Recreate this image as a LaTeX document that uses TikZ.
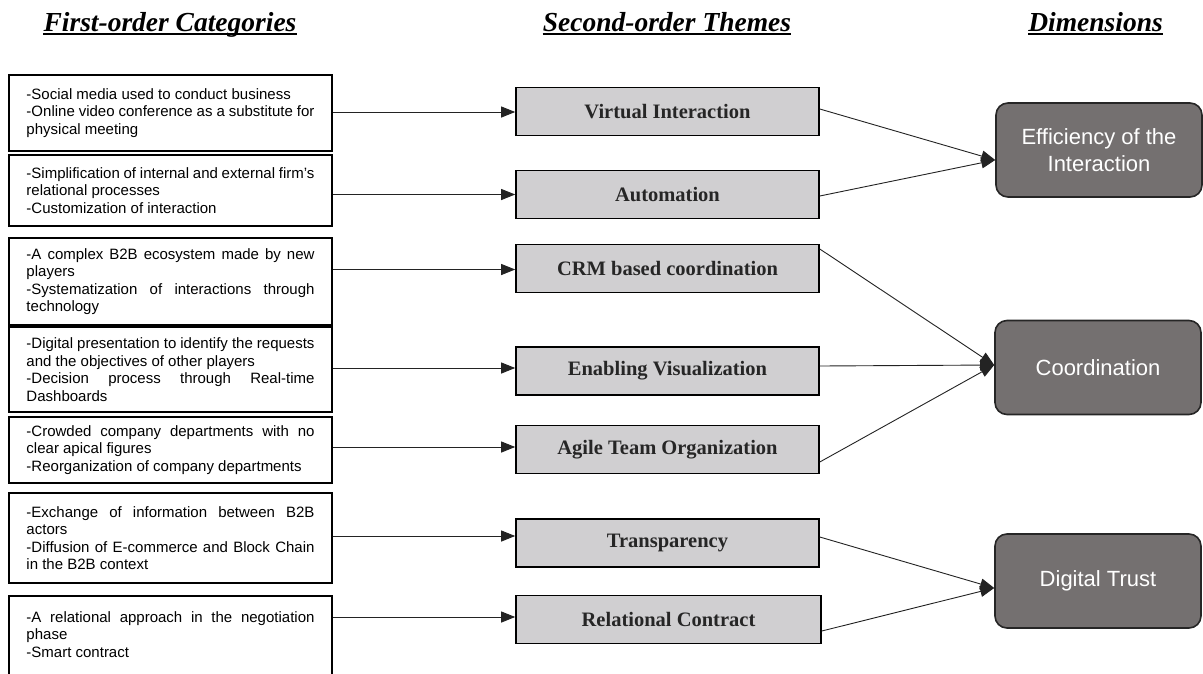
\documentclass[tikz,border=0pt]{standalone}
\usepackage{fontspec}
\setmainfont{Liberation Serif}
\newfontfamily\lsans{Liberation Sans}
\usetikzlibrary{arrows.meta,calc}
\definecolor{midgray}{RGB}{208,207,209}
\definecolor{dimfill}{RGB}{116,112,112}
\definecolor{lineclr}{RGB}{35,35,35}
\hyphenpenalty=10000
\exhyphenpenalty=10000
\tolerance=9999
\begin{document}
\begin{tikzpicture}[x=1pt,y=-1pt,
  ltext/.style={inner xsep=17.5pt,inner ysep=0pt,text width=288pt,align=justify,
    font=\lsans\fontsize{15}{17.5}\selectfont},
  lbox/.style={ltext,draw=black,line width=1.6pt,minimum width=323pt},
  mbox/.style={draw=black,line width=1.6pt,fill=midgray,minimum width=303pt,minimum height=48pt,
    inner sep=0pt,font=\fontsize{20.5}{24}\selectfont\bfseries,text=black!85},
  dbox/.style={draw=black!85,line width=1.6pt,fill=dimfill,rounded corners=12pt,
    minimum width=206pt,minimum height=94pt,align=center,inner sep=0pt,
    font=\lsans\fontsize{22}{26.7}\selectfont,text=white},
  hdr/.style={inner sep=0pt,anchor=base,font=\fontsize{27.5}{30}\selectfont\bfseries\itshape},
  uline/.style={line width=2pt},
  arr/.style={draw=lineclr,line width=0.9pt,-{Triangle[length=14pt,width=11pt]}}
]
\clip (0,0) rectangle (1203,673);
\fill[white] (0,0) rectangle (1203,673);

% headers
\node[hdr] (h1) at (170,31) {First-order Categories};
\node[hdr] (h2) at (667,31) {Second-order Themes};
\node[hdr] (h3) at (1095.5,31) {Dimensions};
\foreach \h in {h1,h2,h3}
  \draw[uline] ([yshift=-3pt]\h.base west) -- ([yshift=-3pt]\h.base east);

% first-order boxes
\node[lbox,minimum height=76pt] (l1) at (170.5,113) {-Social media used to conduct business\\-Online video conference as a substitute for\linebreak physical meeting};
\node[lbox,minimum height=71pt] (l2) at (170.5,190.5) {-Simplification of internal and external firm’s\linebreak relational processes\\-Customization of interaction};
\node[lbox,minimum height=87pt] (l3) at (170.5,281.5) {-A complex B2B ecosystem made by new\linebreak players\\-Systematization of interactions through\linebreak technology};
\node[lbox,minimum height=85pt] (l4) at (170.5,369.5) {-Digital presentation to identify the requests\linebreak and the objectives of other players\\-Decision process through Real-time\linebreak Dashboards};
\node[lbox,minimum height=66pt] (l5) at (170.5,450) {-Crowded company departments with no\linebreak clear apical figures\\-Reorganization of company departments};
\node[lbox,minimum height=90pt] (l6) at (170.5,538) {-Exchange of information between B2B\linebreak actors\\-Diffusion of E-commerce and Block Chain\linebreak in the B2B context};
\node[lbox,minimum height=110pt,anchor=north] (l7) at (170.5,595) {};
\node[ltext,anchor=north] (t7) at ([yshift=-16pt]l7.north) {-A relational approach in the negotiation\linebreak phase\\-Smart contract};

% second-order themes
\node[mbox] (m1) at (667.5,111.5) {Virtual Interaction};
\node[mbox] (m2) at (667.5,194.5) {Automation};
\node[mbox] (m3) at (667.5,268.5) {CRM based coordination};
\node[mbox] (m4) at (667.5,371) {Enabling Visualization};
\node[mbox] (m5) at (667.5,449.5) {Agile Team Organization};
\node[mbox] (m6) at (667.5,543) {Transparency};
\node[mbox,minimum width=305pt] (m7) at (668.5,619.5) {Relational Contract};

% dimensions
\node[dbox] (d1) at (1099,150) {Efficiency of the\\Interaction};
\node[dbox] (d2) at (1098,367.5) {Coordination};
\node[dbox] (d3) at (1098,581) {Digital Trust};

% first -> second
\draw[arr] ($(m1.west -| l1.east)+(0,0.5)$) -- ($(m1.west)+(0,0.5)$);
\draw[arr] ($(m2.west -| l2.east)+(0,0)$) -- ($(m2.west)+(0,0)$);
\draw[arr] ($(m3.west -| l3.east)+(0,1)$) -- ($(m3.west)+(0,1)$);
\draw[arr] ($(m4.west -| l4.east)+(0,-3)$) -- ($(m4.west)+(0,-3)$);
\draw[arr] ($(m5.west -| l5.east)+(0,-2.5)$) -- ($(m5.west)+(0,-2.5)$);
\draw[arr] ($(m6.west -| l6.east)+(0,-7)$) -- ($(m6.west)+(0,-7)$);
\draw[arr] ($(m7.west -| l7.east)+(0,-2.5)$) -- ($(m7.west)+(0,-2.5)$);

% second -> dimensions
\draw[arr] ($(m1.east)+(0,-2.5)$) -- ($(d1.west)+(0,10)$);
\draw[arr] ($(m2.east)+(0,1.5)$) -- ($(d1.west)+(0,10)$);
\draw[arr] ($(m3.east)+(0,-19.5)$) -- ($(d2.west)+(0,-2.5)$);
\draw[arr] ($(m4.east)+(0,-5)$) -- ($(d2.west)+(0,-2.5)$);
\draw[arr] ($(m5.east)+(0,12.5)$) -- ($(d2.west)+(0,-2.5)$);
\draw[arr] ($(m6.east)+(0,-6)$) -- ($(d3.west)+(0,7)$);
\draw[arr] ($(m7.east)+(0,11.5)$) -- ($(d3.west)+(0,7)$);
\end{tikzpicture}
\end{document}
